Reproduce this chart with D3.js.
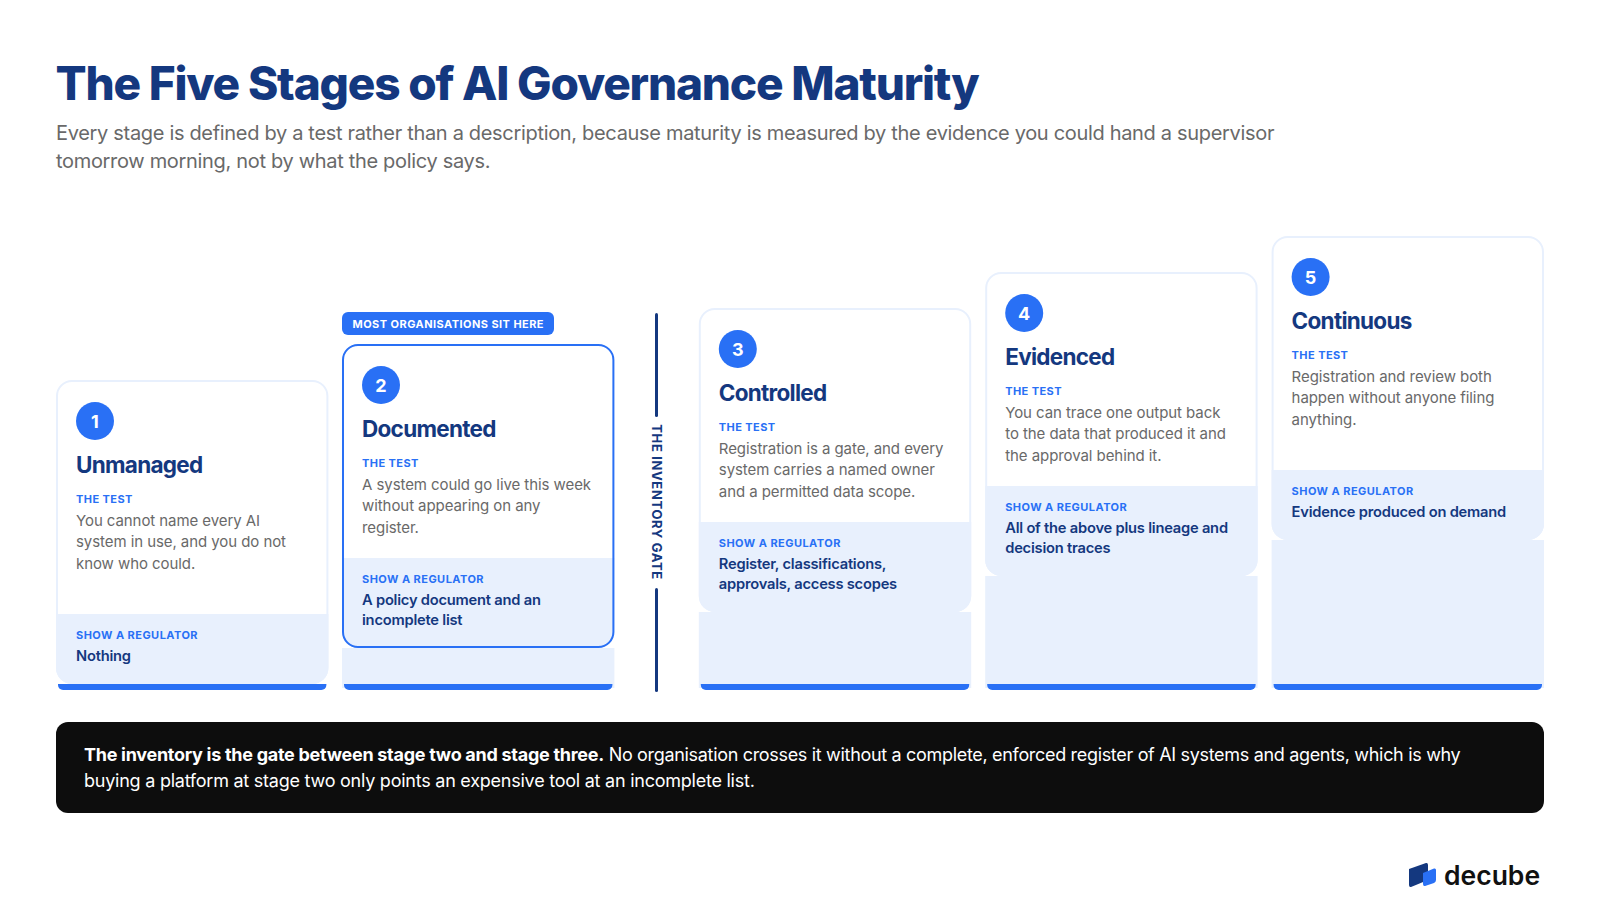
<!DOCTYPE html>
<html><head><meta charset="utf-8">
<script src="https://cdn.jsdelivr.net/npm/d3@7/dist/d3.min.js"></script>
<style>html,body{margin:0;background:#fff}svg{display:block}text{font-family:Inter,sans-serif}</style>
</head><body><svg id="c" width="1600" height="916"></svg>
<script>
const chartTitle="The Five Stages of AI Governance Maturity";
const subtitleLines=["Every stage is defined by a test rather than a description, because maturity is measured by the evidence you could hand a supervisor","tomorrow morning, not by what the policy says."];
const stageNumbers=[1,2,3,4,5];
const stageNames=["Unmanaged","Documented","Controlled","Evidenced","Continuous"];
const stageTests=[["You cannot name every AI","system in use, and you do not","know who could."],["A system could go live this week","without appearing on any","register."],["Registration is a gate, and every","system carries a named owner","and a permitted data scope."],["You can trace one output back","to the data that produced it and","the approval behind it."],["Registration and review both","happen without anyone filing","anything."]];
const stageEvidence=[["Nothing"],["A policy document and an","incomplete list"],["Register, classifications,","approvals, access scopes"],["All of the above plus lineage and","decision traces"],["Evidence produced on demand"]];
const noteBold="The inventory is the gate between stage two and stage three.";
const noteLines=[" No organisation crosses it without a complete, enforced register of AI systems and agents, which is why","buying a platform at stage two only points an expensive tool at an incomplete list."];

const NAVY="#14387F",BLUE="#2970F5",PALE="#E8F0FD",GREY="#696969";
const svg=d3.select("#c");
const topY=d3.scaleLinear().domain([1,5]).range([380,236]);
const colX=d3.scaleOrdinal().domain(stageNumbers).range([56,342,698.8,985.2,1271.6]);
const colW=272.4,base=690,cardH=304,r=16;

svg.append("text").attr("x",55.5).attr("y",100).attr("fill",NAVY).attr("font-size",46).attr("font-weight",800).attr("letter-spacing",-1.2).text(chartTitle);
svg.selectAll(".sub").data(subtitleLines).join("text").attr("x",56).attr("y",(d,i)=>140+i*28).attr("fill",GREY).attr("font-size",20).attr("letter-spacing",-0.32).text(d=>d);

const rows=stageNumbers.map((n,i)=>({n,name:stageNames[i],test:stageTests[i],ev:stageEvidence[i]}));
const g=svg.selectAll(".stage").data(rows).join("g").attr("transform",d=>`translate(${colX(d.n)},${topY(d.n)})`);
g.each(function(d){
  const sel=d3.select(this), t=topY(d.n), w=colW, hi=d.n===2;
  const bandH=d.ev.length===1?70:90, band=cardH-bandH;
  if(base-t-cardH>6) sel.append("rect").attr("x",0).attr("y",cardH).attr("width",w).attr("height",base-t-cardH-2).attr("fill",PALE);
  sel.append("rect").attr("x",1).attr("y",1).attr("width",w-2).attr("height",cardH-2).attr("rx",r-1).attr("fill","#fff");
  sel.append("path").attr("d",`M0,${band}H${w}V${cardH-r}A${r},${r} 0 0 1 ${w-r},${cardH}H${r}A${r},${r} 0 0 1 0,${cardH-r}Z`).attr("fill",PALE);
  sel.append("rect").attr("x",1).attr("y",1).attr("width",w-2).attr("height",cardH-2).attr("rx",r-1).attr("fill","none").attr("stroke",hi?BLUE:PALE).attr("stroke-width",2);
  const bt=base-6-t,bb=base-t;
  sel.append("path").attr("d",`M2,${bt}H${w-2}V${bb-5}A5,5 0 0 1 ${w-7},${bb}H7A5,5 0 0 1 2,${bb-5}Z`).attr("fill",BLUE);
  sel.append("circle").attr("cx",39).attr("cy",41).attr("r",19).attr("fill",BLUE);
  sel.append("text").attr("x",39).attr("y",47.5).attr("text-anchor","middle").attr("fill","#fff").attr("font-size",18).attr("font-weight",700).text(d.n);
  sel.append("text").attr("x",20).attr("y",92.5).attr("fill",NAVY).attr("font-size",22.5).attr("font-weight",700).attr("letter-spacing",-0.72).text(d.name);
  sel.append("text").attr("x",20).attr("y",123).attr("fill",BLUE).attr("font-size",11).attr("font-weight",700).attr("letter-spacing",0.42).text("THE TEST");
  sel.selectAll(".t").data(d.test).join("text").attr("x",20).attr("y",(v,i)=>146+i*21.4).attr("fill",GREY).attr("font-size",15).attr("letter-spacing",-0.07).text(v=>v);
  sel.append("text").attr("x",20).attr("y",band+24.5).attr("fill",BLUE).attr("font-size",11).attr("font-weight",700).attr("letter-spacing",0.45).text("SHOW A REGULATOR");
  sel.selectAll(".e").data(d.ev).join("text").attr("x",20).attr("y",(v,i)=>band+46.5+i*20).attr("fill",NAVY).attr("font-size",14.7).attr("font-weight",600).attr("letter-spacing",-0.22).text(v=>v);
});
svg.append("rect").attr("x",342).attr("y",312).attr("width",212).attr("height",23).attr("rx",6).attr("fill",BLUE);
svg.append("text").attr("x",352.5).attr("y",328).attr("fill","#fff").attr("font-size",11).attr("font-weight",700).attr("letter-spacing",0.44).text("MOST ORGANISATIONS SIT HERE");
svg.append("rect").attr("x",655).attr("y",313).attr("width",3).attr("height",104).attr("rx",1.5).attr("fill",NAVY);
svg.append("rect").attr("x",655).attr("y",588).attr("width",3).attr("height",104).attr("rx",1.5).attr("fill",NAVY);
svg.append("text").attr("transform","translate(652,502) rotate(90)").attr("text-anchor","middle").attr("fill",NAVY).attr("font-size",13).attr("font-weight",700).attr("letter-spacing",0.65).text("THE INVENTORY GATE");
svg.append("rect").attr("x",56).attr("y",722).attr("width",1488).attr("height",91).attr("rx",12).attr("fill","#0D0D0D");
const n1=svg.append("text").attr("x",84).attr("y",761).attr("fill","#fff").attr("font-size",18).attr("letter-spacing",-0.32);
n1.append("tspan").attr("font-weight",700).attr("letter-spacing",-0.28).text(noteBold);
n1.append("tspan").text(noteLines[0]);
svg.append("text").attr("x",84).attr("y",787).attr("fill","#fff").attr("font-size",18).attr("letter-spacing",-0.24).text(noteLines[1]);
svg.append("path").attr("d","M1409,869L1426,863Q1428,862.5 1428,865V880L1411,887Q1409,887.5 1409,885Z").attr("fill",NAVY);
svg.append("path").attr("d","M1423,873L1434,868.5Q1436,868 1436,870V880Q1436,882 1434,883L1425,886Q1423,886.5 1423,884Z").attr("fill",BLUE);
svg.append("text").attr("x",1444).attr("y",885).attr("fill","#111").attr("font-size",26.5).attr("font-weight",600).text("decube");
</script></body></html>
